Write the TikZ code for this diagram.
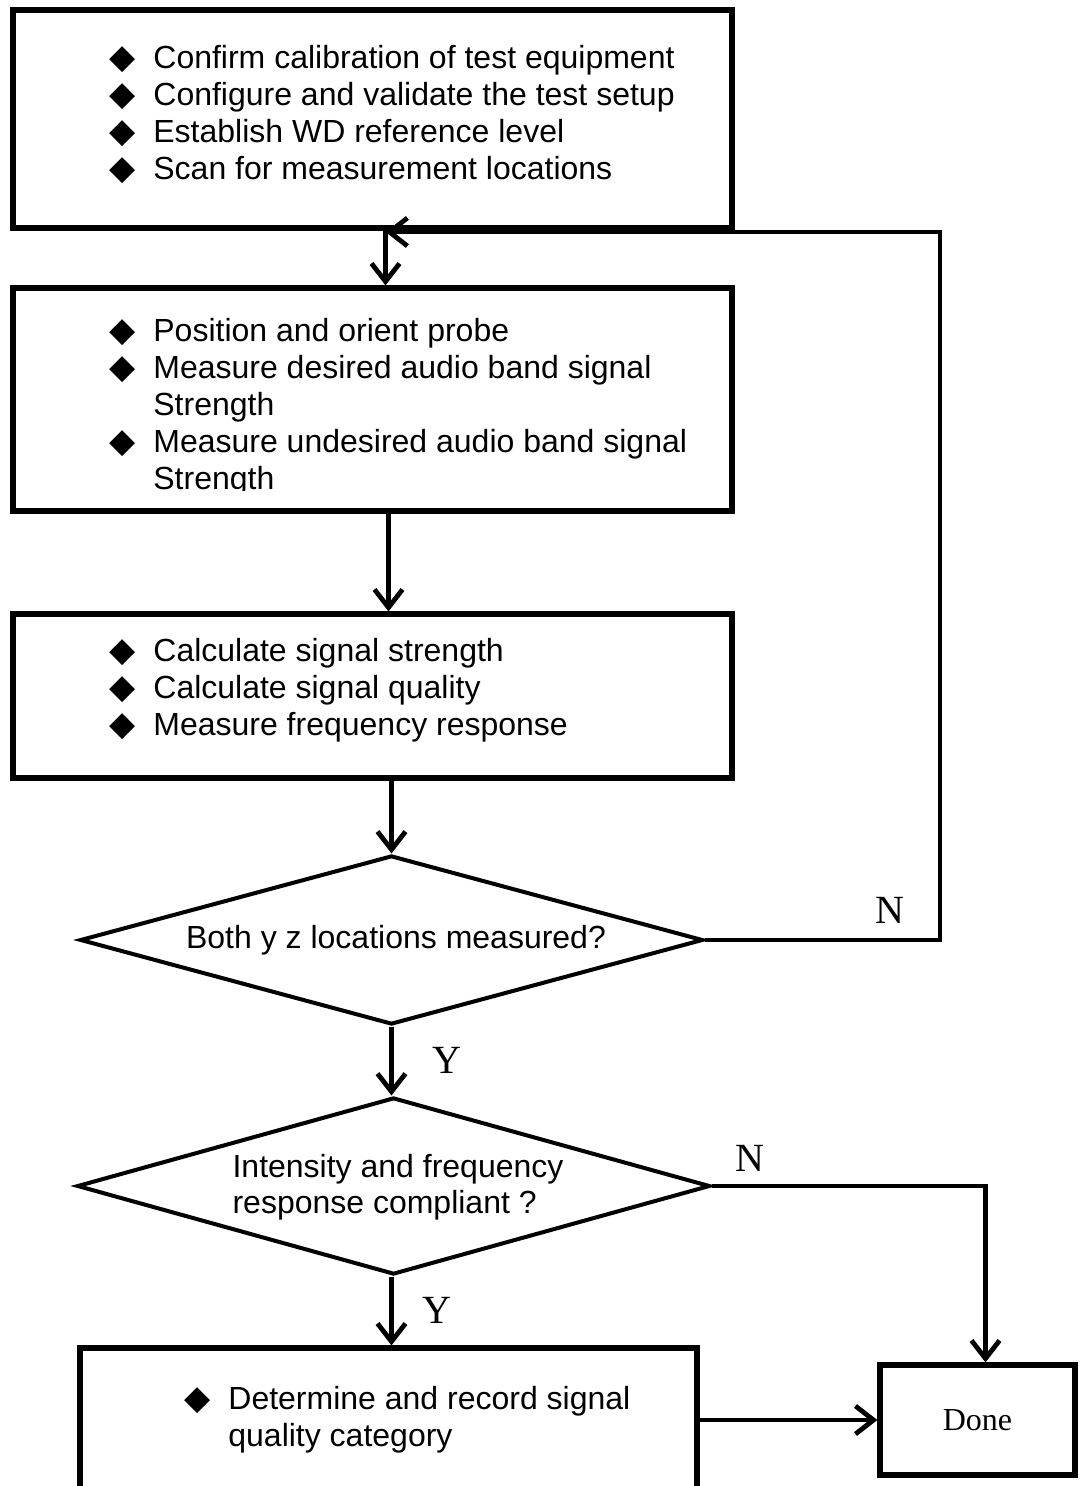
\documentclass[tikz,border=0pt]{standalone}
\usepackage{fontspec}
\setmainfont{Liberation Sans}
\newfontfamily\tnr{Liberation Serif}
\newfontfamily\sym{DejaVu Sans}
\usetikzlibrary{arrows.meta,shapes.geometric}
\newcommand{\bul}{\llap{{\sym\fontsize{17}{17}\selectfont ◆}\hspace{9pt}}}
\tikzset{
  box/.style={draw, line width=2.6pt, inner sep=0pt},
  dec/.style={draw, diamond, aspect=3.6, inner sep=0pt, line width=2pt},
  arr/.style={line width=2.4pt, -{Straight Barb[length=9pt,width=14pt,line width=2.4pt]}},
  lst/.style={anchor=north west, align=left, inner sep=0pt, font=\fontsize{16}{18.5}\selectfont},
  yn/.style={font=\tnr\fontsize{20}{22}\selectfont}
}
\begin{document}
\begin{tikzpicture}[x=0.5pt,y=-0.5pt]
	\clip (0,0) rectangle (1083,1486);
	\fill[white] (0,0) rectangle (1083,1486);
	% boxes
	\node[box, minimum width=359.5pt, minimum height=109pt] (setup) at (372.5,119) {};
	\node[box, minimum width=359.5pt, minimum height=111.5pt] (meas) at (372.5,399.5) {};
	\node[box, minimum width=359.5pt, minimum height=82pt] (calc) at (372.5,696) {};
	\node[dec, minimum width=311.5pt, minimum height=84.5pt] (both) at (391.5,940) {};
	\node[dec, minimum width=316.5pt, minimum height=88.5pt] (comp) at (393.5,1186) {};
	\node[box, minimum width=308.5pt, minimum height=86pt] (rec) at (388.5,1434) {};
	\node[box, minimum width=97.5pt, minimum height=55pt, font=\tnr\fontsize{16}{18}\selectfont] (done) at (977.5,1420) {Done};
	% texts
	\node[lst] (t1) at (153,45) {\bul Confirm calibration of test equipment\\
		\bul Configure and validate the test setup\\
		\bul Establish WD reference level\\
		\bul Scan for measurement locations};
	\begin{scope}
		\clip (13,288) rectangle (732,490);
		\node[lst] (t2) at (153,318) {\bul Position and orient probe\\
			\bul Measure desired audio band signal\\
			Strength\\
			\bul Measure undesired audio band signal\\
			Strength};
	\end{scope}
	\node[lst] (t3) at (153,638) {\bul Calculate signal strength\\
		\bul Calculate signal quality\\
		\bul Measure frequency response};
	\node[font=\fontsize{16}{18.5}\selectfont, inner sep=0pt] (t4) at (396,940) {Both y z locations measured?};
	\node[font=\fontsize{16}{18}\selectfont, align=left, inner sep=0pt] (t5) at (398,1187) {Intensity and frequency\\response compliant ?};
	\node[lst] (t6) at (228,1386) {\bul Determine and record signal\\quality category};
	% connectors
	\coordinate (back) at (940,232);
	\draw[arr] ([xshift=-3pt]setup.south -| both.north) -- ([xshift=-3pt]meas.north -| both.north);
	\draw[arr] ([xshift=-1.5pt]meas.south -| both.north) -- ([xshift=-1.5pt]calc.north -| both.north);
	\draw[arr] (calc.south -| both.north) -- (both.north);
	\draw[arr] (both.east) -| (back) -- ([xshift=-3pt]back -| both.north);
	\draw[arr] (both.south) -- (comp.north -| both.south);
	\draw[arr] (comp.south -| both.south) -- (rec.north -| both.south);
	\draw[arr] (comp.east) -| ([xshift=4pt]done.north);
	\draw[arr] (rec.east |- done.west) -- (done.west);
	% labels
	\node[yn] (n1) at (890,910) {N};
	\node[yn] (y1) at (447,1060) {Y};
	\node[yn] (n2) at (750,1158) {N};
	\node[yn] (y2) at (437,1310) {Y};
\end{tikzpicture}
\end{document}
